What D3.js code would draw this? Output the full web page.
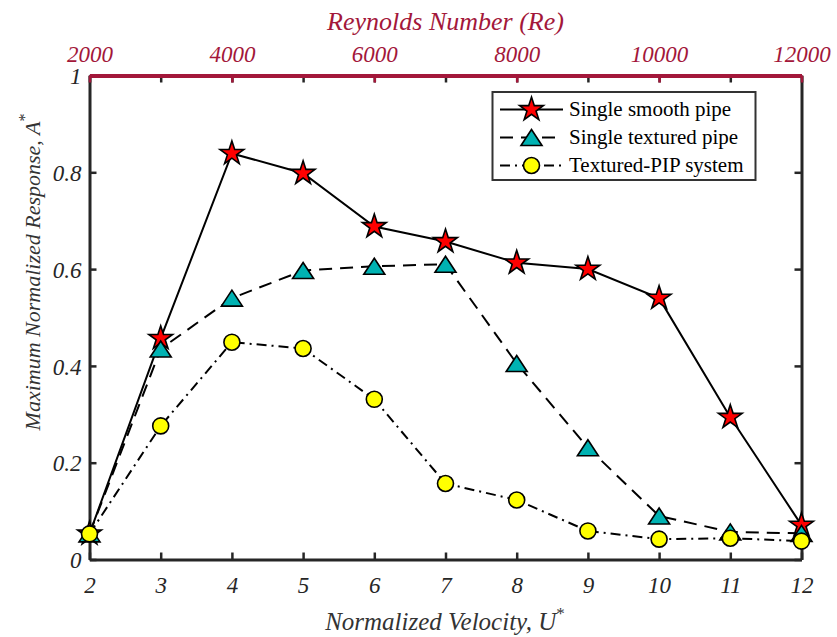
<!DOCTYPE html>
<html>
<head>
<meta charset="utf-8">
<script src="https://cdn.jsdelivr.net/npm/d3@7"></script>
<style>
  html, body { margin: 0; padding: 0; background: #fff; }
  svg { display: block; }
  text { font-family: "Liberation Serif", "Times New Roman", serif; }
</style>
</head>
<body>
<svg id="chart" width="837" height="637"></svg>
<script>
// Normalized velocity U* (bottom axis) and Reynolds number ticks (top axis)
const velocity = [2, 3, 4, 5, 6, 7, 8, 9, 10, 11, 12];
const reynoldsTicks = [2000, 4000, 6000, 8000, 10000, 12000];
const responseTicks = [0, 0.2, 0.4, 0.6, 0.8, 1];

// Maximum normalized response A* for each configuration
const smoothPipe   = [0.053, 0.457, 0.839, 0.798, 0.688, 0.657, 0.613, 0.600, 0.540, 0.294, 0.071];
const texturedPipe = [0.053, 0.435, 0.540, 0.597, 0.606, 0.610, 0.405, 0.231, 0.090, 0.057, 0.054];
const texturedPIP  = [0.053, 0.276, 0.449, 0.436, 0.331, 0.157, 0.123, 0.059, 0.042, 0.044, 0.038];

const seriesNames = ["Single smooth pipe", "Single textured pipe", "Textured-PIP system"];

const plotLeft = 89.5, plotRight = 801.5, plotTop = 75.5, plotBottom = 559.5;
const axisColor = "#262626";
const reColor = "#a3173a";

const svg = d3.select("#chart");
svg.append("rect").attr("width", 837).attr("height", 637).attr("fill", "#fff");

const x = d3.scaleLinear().domain([2, 12]).range([plotLeft, plotRight]);
const xRe = d3.scaleLinear().domain([2000, 12000]).range([plotLeft, plotRight]);
const y = d3.scaleLinear().domain([0, 1]).range([plotBottom, plotTop]);

// Marker shapes
function starPath(ro) {
  const ri = ro * 0.382;
  const pts = [];
  for (let i = 0; i < 10; i++) {
    const r = i % 2 === 0 ? ro : ri;
    const a = -Math.PI / 2 + i * Math.PI / 5;
    pts.push([r * Math.cos(a), r * Math.sin(a)]);
  }
  return "M" + pts.map(p => p[0].toFixed(2) + "," + p[1].toFixed(2)).join("L") + "Z";
}
function trianglePath(w, h) {
  return `M0,${-h / 2}L${w / 2},${h / 2}L${-w / 2},${h / 2}Z`;
}

const styles = [
  { values: smoothPipe, dash: null, shape: starPath(12.5), fill: "#ff0000" },
  { values: texturedPipe, dash: "13,8", shape: trianglePath(21, 16), fill: "#00b2b2" },
  { values: texturedPIP, dash: "10,5,2,5", shape: null, fill: "#ffff00" }
];

function styleAxis(g, color, width) {
  g.select(".domain").attr("stroke", color).attr("stroke-width", width);
  g.selectAll(".tick line").attr("stroke", color).attr("stroke-width", 2.5);
  g.selectAll(".tick text")
    .attr("fill", "#262626")
    .attr("font-style", "italic")
    .attr("font-size", 23);
}

// Bottom axis (U*)
const gBottom = svg.append("g").attr("transform", `translate(0,${plotBottom})`)
  .call(d3.axisBottom(x).tickValues(velocity).tickSize(-7).tickSizeOuter(0).tickPadding(17));
styleAxis(gBottom, axisColor, 3);

// Left axis (A*)
const fmt = d => (d === 0 || d === 1) ? String(d) : d.toFixed(1);
const gLeft = svg.append("g").attr("transform", `translate(${plotLeft},0)`)
  .call(d3.axisLeft(y).tickValues(responseTicks).tickFormat(fmt).tickSize(-7).tickSizeOuter(0).tickPadding(8));
styleAxis(gLeft, axisColor, 3);
gLeft.selectAll(".tick text").attr("dy", "0.36em");

// Right axis (box side, mirrored ticks)
const gRight = svg.append("g").attr("transform", `translate(${plotRight},0)`)
  .call(d3.axisRight(y).tickValues(responseTicks).tickFormat("").tickSize(-7).tickSizeOuter(0));
styleAxis(gRight, axisColor, 3);

// Top box line with mirrored U* ticks
const gTopBox = svg.append("g").attr("transform", `translate(0,${plotTop})`)
  .call(d3.axisTop(x).tickValues(velocity).tickFormat("").tickSize(-7).tickSizeOuter(0));
styleAxis(gTopBox, axisColor, 3);

// Top axis (Reynolds number)
const gTop = svg.append("g").attr("transform", `translate(0,${plotTop})`)
  .call(d3.axisTop(xRe).tickValues(reynoldsTicks).tickFormat(d3.format("d")).tickSize(-7).tickSizeOuter(0).tickPadding(14));
styleAxis(gTop, reColor, 4);
gTop.selectAll(".tick text").attr("fill", reColor);

// Axis titles
svg.append("text")
  .attr("x", (plotLeft + plotRight) / 2).attr("y", 30)
  .attr("text-anchor", "middle").attr("font-style", "italic")
  .attr("font-size", 26).attr("fill", reColor)
  .text("Reynolds Number (Re)");

const xt = svg.append("text")
  .attr("x", 445).attr("y", 630)
  .attr("text-anchor", "middle").attr("font-style", "italic")
  .attr("font-size", 25).attr("fill", "#333");
xt.append("tspan").text("Normalized Velocity, U");
xt.append("tspan").attr("dy", -11).attr("font-size", 17).attr("font-style", "normal").text("*");

const yt = svg.append("text")
  .attr("transform", "translate(40,272) rotate(-90)")
  .attr("text-anchor", "middle").attr("font-style", "italic")
  .attr("font-size", 22).attr("fill", "#333");
yt.append("tspan").text("Maximum Normalized Response, A");
yt.append("tspan").attr("dy", -10).attr("font-size", 16).attr("font-style", "normal").text("*");

// Series: lines then markers, in order
const line = d3.line().x((d, i) => x(velocity[i])).y(d => y(d));

function drawMarker(g, s, cx, cy) {
  if (s.shape) {
    g.append("path").attr("d", s.shape)
      .attr("transform", `translate(${cx},${cy})`)
      .attr("fill", s.fill).attr("stroke", "#000").attr("stroke-width", 1.6)
      .attr("stroke-linejoin", "miter");
  } else {
    g.append("circle").attr("cx", cx).attr("cy", cy).attr("r", 8)
      .attr("fill", s.fill).attr("stroke", "#000").attr("stroke-width", 1.6);
  }
}

styles.forEach(s => {
  const g = svg.append("g");
  g.append("path").datum(s.values).attr("d", line)
    .attr("fill", "none").attr("stroke", "#000").attr("stroke-width", 2)
    .attr("stroke-dasharray", s.dash);
  s.values.forEach((v, i) => drawMarker(g, s, x(velocity[i]), y(v)));
});

// Legend
const lg = svg.append("g");
lg.append("rect").attr("x", 492.5).attr("y", 92).attr("width", 263).attr("height", 88)
  .attr("fill", "#fff").attr("stroke", "#333").attr("stroke-width", 2);
styles.forEach((s, i) => {
  const ly = 109.5 + i * 28;
  lg.append("line").attr("x1", 500).attr("x2", 563).attr("y1", ly).attr("y2", ly)
    .attr("stroke", "#000").attr("stroke-width", 2).attr("stroke-dasharray", s.dash);
  drawMarker(lg, s, 531.5, ly);
  lg.append("text").attr("x", 569).attr("y", ly).attr("dy", "0.33em")
    .attr("font-size", 21).attr("fill", "#000")
    .text(seriesNames[i]);
});
</script>
</body>
</html>
